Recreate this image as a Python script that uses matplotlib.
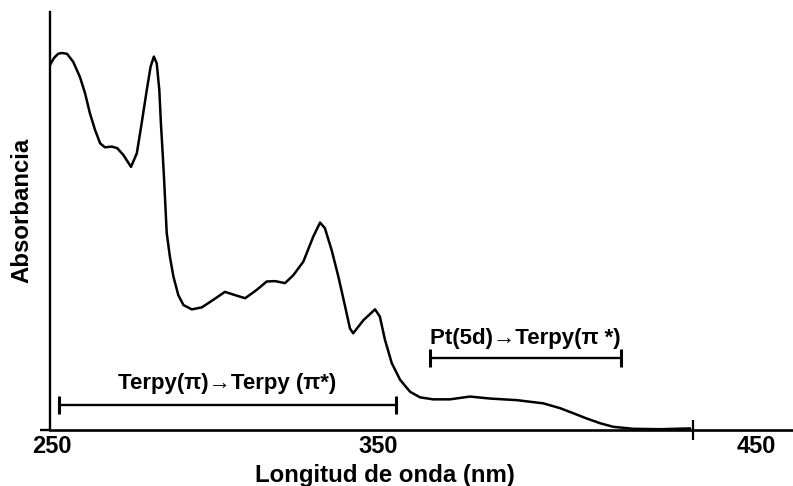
import matplotlib
matplotlib.use("Agg")
import matplotlib.pyplot as plt
from matplotlib.transforms import ScaledTranslation

plt.rcParams['font.family'] = ['Liberation Sans', 'DejaVu Sans']
plt.rcParams['font.weight'] = 'bold'

# UV-Vis absorption spectrum (arbitrary absorbance units)
wavelength_nm = [250.0, 251.2, 252.5, 253.7, 255.3, 257.2, 259.3, 260.9, 262.4,
                 264.0, 265.6, 267.1, 269.2, 270.9, 272.8, 275.2, 277.0, 278.5,
                 280.1, 281.3, 282.3, 283.2, 284.0, 284.5, 285.1, 285.5, 286.3,
                 287.3, 288.4, 289.9, 291.5, 294.1, 297.2, 300.8, 304.4, 307.5,
                 310.7, 314.3, 317.4, 320.0, 323.1, 325.7, 328.8, 331.9, 334.0,
                 335.5, 337.6, 339.7, 341.8, 343.3, 344.3, 347.5, 351.1, 352.6,
                 354.2, 356.3, 358.9, 362.0, 365.1, 369.2, 374.4, 380.6, 386.9,
                 395.2, 403.4, 408.6, 412.8, 416.9, 421.1, 425.2, 431.4, 439.7,
                 449.1]
absorbance = [0.917, 0.934, 0.945, 0.947, 0.945, 0.925, 0.887, 0.846, 0.796,
              0.754, 0.720, 0.710, 0.712, 0.708, 0.691, 0.661, 0.695, 0.770,
              0.854, 0.913, 0.938, 0.921, 0.854, 0.770, 0.687, 0.628, 0.495,
              0.435, 0.385, 0.339, 0.314, 0.303, 0.308, 0.327, 0.347, 0.339,
              0.331, 0.352, 0.373, 0.374, 0.369, 0.389, 0.423, 0.486, 0.521,
              0.507, 0.452, 0.385, 0.310, 0.255, 0.243, 0.276, 0.303, 0.285,
              0.226, 0.168, 0.126, 0.096, 0.082, 0.077, 0.077, 0.084, 0.079,
              0.075, 0.067, 0.055, 0.042, 0.029, 0.017, 0.008, 0.003, 0.002,
              0.004]

# Transition bands: label, start/end wavelength, bracket and label heights
band_labels = ["Terpy(π)→Terpy (π*)", "Pt(5d)→Terpy(π *)"]
band_start = [252.8, 368.2]
band_end = [357.6, 427.6]
band_level = [0.063, 0.181]
label_level = [0.103, 0.216]

tick_values = [250, 350, 450]
tick_labels = ["250", "350", "450"]

fig = plt.figure(figsize=(7.93, 4.86), dpi=100)
ax = fig.add_axes([50 / 793, 56 / 486, 743 / 793, 418 / 486])

ax.plot(wavelength_nm, absorbance, color='black', lw=1.8,
        solid_joinstyle='round', solid_capstyle='round')

for lab, s, e, lvl, tl in zip(band_labels, band_start, band_end,
                              band_level, label_level):
    mid = (s + e) / 2
    ax.errorbar([mid], [lvl], xerr=[[mid - s], [e - mid]], fmt='none',
                ecolor='black', elinewidth=1.7, capsize=6.5, capthick=2.2)
    ax.text(mid, tl, lab, ha='center', va='baseline', fontsize=16,
            fontweight='bold')

ax.set_xlim(250, 481.1)
ax.set_ylim(0, 1.05)

for side in ('top', 'right'):
    ax.spines[side].set_visible(False)
ax.spines['left'].set_linewidth(1.7)
ax.spines['bottom'].set_linewidth(1.9)

ax.set_yticks([0])
ax.set_yticklabels([''])
ax.tick_params(axis='y', length=7.2, width=1.7, direction='out')

ax.set_xticks(tick_values)
ax.set_xticklabels(tick_labels, fontsize=17, fontweight='bold')
ax.tick_params(axis='x', which='major', length=14, width=1.6,
               direction='inout', pad=-3.4)
# only the 450 nm position carries a visible tick mark
for t in ax.xaxis.get_major_ticks()[:2]:
    t.tick1line.set_visible(False)

# shift tick labels horizontally (pixel offsets)
offsets_px = [2, 6.5, 63]
for lbl, dx in zip(ax.get_xticklabels(), offsets_px):
    lbl.set_transform(lbl.get_transform() +
                      ScaledTranslation(dx / 100, 0, fig.dpi_scale_trans))

fig.text(385 / 793, 1 - 482 / 486, "Longitud de onda (nm)", ha='center',
         va='baseline', fontsize=17.3, fontweight='bold')
fig.text(22 / 793, 1 - 210 / 486, "Absorbancia", ha='center', va='center',
         rotation=90, fontsize=17.3, fontweight='bold')

fig.savefig("out.png", dpi=100)
